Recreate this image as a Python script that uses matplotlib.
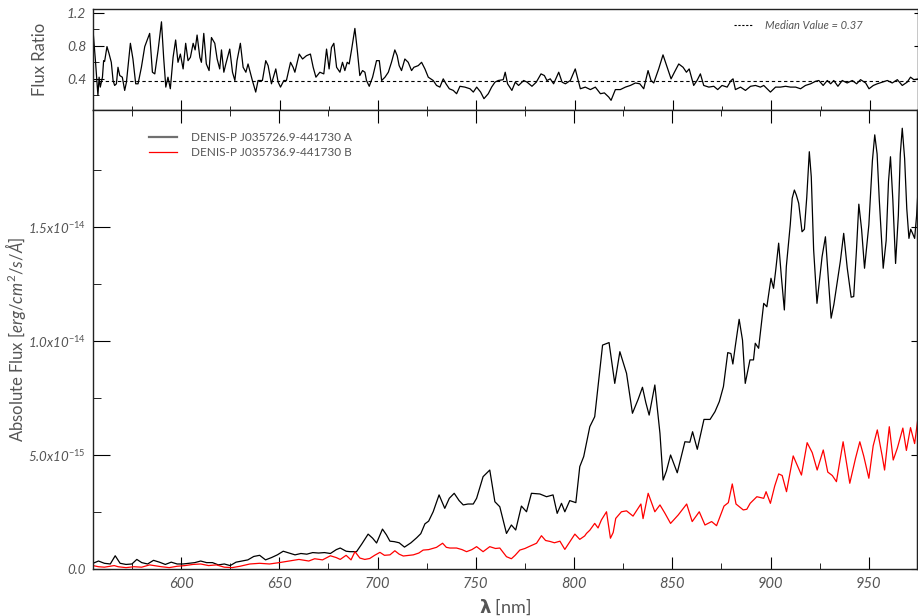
import matplotlib
matplotlib.use("Agg")
import matplotlib.pyplot as plt
from matplotlib.lines import Line2D

plt.rcParams['font.family'] = ['Lato', 'DejaVu Sans']
plt.rcParams['mathtext.fontset'] = 'custom'
plt.rcParams['mathtext.rm'] = 'Lato'
plt.rcParams['mathtext.it'] = 'Lato:italic'
plt.rcParams['mathtext.bf'] = 'DejaVu Sans:bold'
plt.rcParams['mathtext.default'] = 'it'

# Flux ratio B/A (top panel)
ratio_wave = [555.2, 556.5, 557.7, 558.3, 558.9, 560.0, 560.6, 561.1, 562.3, 563.3,
              564.5, 565.4, 566.2, 567.1, 567.9, 568.8, 570.1, 571.3, 572.2, 574.2,
              575.5, 576.9, 578.1, 579.8, 581.5, 583.2, 584.0, 585.4, 586.6, 588.3,
              590.0, 591.1, 592.2, 593.3, 594.5, 595.9, 597.2, 598.4, 599.6, 601.0,
              602.3, 603.5, 604.7, 606.1, 607.1, 608.1, 609.5, 610.3, 611.5, 612.8,
              614.2, 615.4, 617.1, 618.3, 619.6, 620.5, 621.7, 622.7, 624.7, 626.1,
              627.3, 628.4, 630.1, 631.5, 632.9, 634.0, 636.2, 637.9, 639.1, 641.3,
              643.0, 644.2, 645.9, 648.1, 649.3, 650.5, 652.2, 653.5, 655.6, 656.9,
              657.8, 660.0, 661.7, 663.7, 665.7, 667.1, 668.5, 670.5, 672.5, 673.9,
              675.2, 676.4, 677.6, 679.0, 680.7, 682.0, 683.2, 684.4, 685.4, 686.6,
              688.3, 689.5, 690.8, 692.2, 693.4, 694.2, 695.6, 697.3, 699.3, 700.7,
              701.9, 703.6, 705.3, 706.9, 708.6, 709.8, 710.8, 712.0, 713.7, 715.4,
              717.1, 718.3, 720.5, 722.2, 723.9, 725.6, 728.1, 729.8, 731.5, 733.2,
              734.6, 736.3, 738.3, 740.0, 741.7, 744.2, 746.8, 748.5, 750.2, 752.2,
              753.9, 756.1, 757.8, 759.5, 761.2, 763.7, 764.7, 765.9, 768.1, 769.8,
              771.5, 774.1, 775.8, 778.3, 780.5, 782.9, 784.6, 785.9, 787.6, 789.3,
              791.9, 793.6, 795.3, 797.8, 800.3, 802.0, 802.9, 805.4, 808.0, 810.5,
              813.1, 815.1, 817.3, 818.5, 820.7, 823.2, 825.8, 828.3, 830.9, 833.1,
              835.1, 837.3, 838.8, 840.2, 842.7, 844.9, 847.0, 849.0, 850.7, 852.9,
              855.1, 856.8, 858.2, 860.5, 862.2, 863.9, 865.6, 868.2, 870.7, 872.7,
              874.9, 877.5, 879.5, 880.5, 881.7, 884.3, 886.8, 889.4, 891.9, 894.4,
              896.1, 899.5, 902.1, 904.6, 907.2, 909.7, 912.3, 914.8, 917.3, 919.9,
              922.4, 924.1, 926.3, 928.4, 930.1, 931.7, 933.8, 936.0, 938.5, 941.1,
              943.3, 945.3, 947.9, 949.6, 951.8, 953.8, 956.3, 958.9, 961.4, 964.0,
              966.5, 969.0, 970.7, 972.4, 974.8]
ratio = [0.99, 0.60, 0.20, 0.42, 0.30, 0.42, 0.62, 0.61, 0.79, 0.71,
         0.60, 0.38, 0.32, 0.34, 0.54, 0.44, 0.42, 0.26, 0.36, 0.83,
         0.64, 0.34, 0.34, 0.54, 0.79, 0.90, 0.95, 0.48, 0.46, 0.75,
         1.09, 0.66, 0.30, 0.42, 0.28, 0.66, 0.87, 0.60, 0.70, 0.52,
         0.83, 0.62, 0.66, 0.83, 0.75, 0.93, 0.66, 0.60, 0.95, 0.58,
         0.50, 0.90, 0.83, 0.64, 0.52, 0.75, 0.48, 0.58, 0.76, 0.48,
         0.38, 0.62, 0.83, 0.54, 0.48, 0.58, 0.38, 0.24, 0.38, 0.38,
         0.62, 0.56, 0.34, 0.52, 0.36, 0.30, 0.38, 0.38, 0.60, 0.54,
         0.48, 0.70, 0.64, 0.68, 0.70, 0.54, 0.42, 0.48, 0.46, 0.76,
         0.52, 0.78, 0.83, 0.54, 0.48, 0.60, 0.50, 0.60, 0.58, 0.75,
         1.01, 0.75, 0.44, 0.50, 0.48, 0.38, 0.31, 0.42, 0.62, 0.62,
         0.38, 0.42, 0.48, 0.60, 0.75, 0.68, 0.56, 0.50, 0.64, 0.60,
         0.50, 0.54, 0.56, 0.60, 0.52, 0.42, 0.38, 0.32, 0.30, 0.40,
         0.34, 0.28, 0.26, 0.22, 0.31, 0.30, 0.28, 0.24, 0.30, 0.24,
         0.16, 0.22, 0.30, 0.36, 0.38, 0.39, 0.48, 0.34, 0.26, 0.36,
         0.32, 0.38, 0.36, 0.31, 0.36, 0.46, 0.44, 0.38, 0.40, 0.34,
         0.48, 0.36, 0.34, 0.38, 0.52, 0.36, 0.28, 0.30, 0.27, 0.30,
         0.22, 0.23, 0.18, 0.14, 0.27, 0.27, 0.30, 0.32, 0.35, 0.34,
         0.28, 0.50, 0.38, 0.35, 0.52, 0.69, 0.54, 0.40, 0.48, 0.58,
         0.54, 0.48, 0.52, 0.32, 0.38, 0.46, 0.32, 0.30, 0.31, 0.27,
         0.32, 0.30, 0.38, 0.40, 0.27, 0.30, 0.26, 0.31, 0.32, 0.30,
         0.32, 0.24, 0.30, 0.30, 0.31, 0.30, 0.30, 0.28, 0.32, 0.34,
         0.37, 0.38, 0.32, 0.38, 0.34, 0.38, 0.31, 0.38, 0.35, 0.38,
         0.34, 0.39, 0.35, 0.28, 0.32, 0.34, 0.36, 0.38, 0.35, 0.39,
         0.32, 0.36, 0.42, 0.39, 0.40]
median_ratio = 0.37

# Component A (black), flux in units of 1e-15 erg/cm2/s/A
wave_a = [555.2, 558, 561, 564, 566.5, 569, 572, 575, 577.5, 580,
          583, 586, 589, 592, 595, 598, 601, 604, 607, 610,
          613, 616, 619, 622, 625, 628, 631, 634, 637, 640,
          643, 646, 649, 652, 655, 658, 661, 664, 667, 670,
          673, 676, 679, 681, 684, 686, 689.3, 692, 695.2, 697.5,
          699.5, 702.5, 704.5, 706.3, 708.5, 711, 713.7, 717, 719.9, 722,
          724.1, 726, 728.3, 731.3, 734.2, 736.5, 739, 741.5, 743.6, 746,
          748.7, 750.4, 753.7, 757.1, 758.5, 759.7, 762.2, 765.6, 768.1, 770.3,
          773.2, 775.8, 778.3, 782.6, 786, 789.3, 791.4, 793.6, 795.3, 797.8,
          800.9, 802.9, 804.9, 808, 810.5, 812.2, 814.5, 817.8, 820.7, 823.3,
          826.7, 829.7, 832.6, 834.8, 836.5, 838.2, 841.1, 843.7, 845.3, 847,
          849.1, 852.5, 856.4, 858.9, 860.3, 862.7, 866.1, 869.2, 871.7, 873.9,
          876, 878.2, 879.8, 880.8, 882, 884, 885.7, 887.1, 889.5, 891.3,
          892.2, 893.9, 896.5, 898.1, 900.2, 901.5, 902.6, 904.1, 905.5, 907,
          908, 910, 911, 912.1, 913.1, 914.3, 916, 917.2, 918.4, 919.7,
          920.7, 921.9, 923.6, 925, 926.2, 927.9, 929.5, 930.8, 932.2, 933.8,
          935.5, 937.2, 939, 941, 942.3, 943.7, 944.9, 946.3, 947.8, 950,
          951.8, 953, 954.2, 955.3, 957.3, 958.8, 960, 961, 962.2, 963.6,
          965, 966, 967, 968.2, 969.3, 970.4, 971.3, 972.1, 973.3, 974.3,
          975.3]
flux_a = [0.25, 0.35, 0.25, 0.22, 0.58, 0.25, 0.20, 0.22, 0.42, 0.28,
          0.22, 0.38, 0.30, 0.20, 0.30, 0.22, 0.22, 0.25, 0.28, 0.35,
          0.28, 0.28, 0.18, 0.22, 0.15, 0.30, 0.35, 0.40, 0.55, 0.60,
          0.40, 0.50, 0.62, 0.78, 0.70, 0.62, 0.68, 0.65, 0.72, 0.70,
          0.72, 0.68, 0.85, 0.92, 0.78, 0.76, 0.76, 1.10, 1.53, 1.35,
          1.14, 1.75, 1.50, 1.22, 1.20, 1.15, 0.96, 1.15, 1.37, 1.55,
          1.98, 2.10, 2.51, 3.25, 2.66, 3.10, 3.32, 3.00, 2.81, 2.85,
          2.85, 3.10, 4.05, 4.34, 3.60, 2.95, 2.73, 1.56, 1.93, 1.71,
          2.76, 2.51, 3.32, 3.29, 3.17, 3.25, 2.44, 2.88, 2.51, 3.00,
          2.91, 4.49, 4.93, 6.24, 6.68, 8.00, 9.82, 9.93, 8.14, 9.53,
          8.58, 6.83, 7.44, 7.97, 7.30, 6.75, 8.07, 5.95, 3.90, 4.30,
          5.00, 4.22, 5.58, 5.56, 6.02, 5.25, 6.56, 6.56, 6.90, 7.34,
          8.00, 9.49, 9.45, 8.99, 9.75, 10.95, 10.04, 8.14, 9.17, 9.17,
          9.90, 9.68, 11.65, 11.50, 12.75, 12.31, 13.10, 14.29, 12.80, 11.36,
          13.26, 15.09, 16.26, 16.62, 16.40, 16.04, 14.79, 14.90, 16.30, 18.30,
          17.20, 14.00, 11.65, 12.75, 13.70, 14.57, 12.60, 11.00, 11.60, 12.53,
          13.50, 14.72, 13.20, 11.92, 11.95, 14.00, 16.00, 14.90, 13.19, 15.09,
          17.90, 19.04, 18.20, 16.20, 13.19, 14.40, 17.00, 18.08, 16.20, 13.40,
          15.50, 18.20, 19.33, 18.00, 15.80, 14.50, 14.90, 14.75, 14.50, 15.50,
          17.06]

# Component B (red), flux in units of 1e-15 erg/cm2/s/A
wave_b = [555.2, 558, 561, 564, 566, 568, 572, 576, 580, 584,
          587, 590, 594, 598, 602, 606, 610, 614, 618, 622,
          626, 630, 635, 640, 645, 650, 655, 660, 665, 668,
          672, 676, 679, 681, 684, 686.5, 688.5, 691, 693.5, 696,
          698.5, 701.2, 703.5, 706.3, 708.8, 711, 713.1, 716, 718.2, 721,
          723.2, 726, 728, 730, 733.1, 735, 736.8, 740.2, 743, 745.3,
          748, 750.4, 753.7, 757.1, 760, 762.2, 765.6, 768.1, 770, 772.4,
          775, 777.5, 780.9, 783.4, 785.5, 787.7, 790, 792.8, 795.3, 797.5,
          800.4, 802.9, 805.4, 806.3, 808, 810.5, 812.2, 813.9, 816.5, 818.5,
          819.9, 821.2, 824.1, 826.7, 830, 834, 835.1, 837.7, 841.1, 843.7,
          846.2, 849.1, 853, 857.3, 860.1, 863.7, 866.6, 870, 872.5, 876.3,
          878.5, 880.5, 882.4, 886.1, 887.9, 889.6, 893, 896.5, 897.7, 899.9,
          902.1, 904.1, 905.9, 908.1, 911.5, 913.5, 915.7, 918.6, 921.2, 923.7,
          926.8, 929.1, 931.4, 933.5, 936.9, 940.3, 943.2, 945.4, 947.4, 950,
          952.2, 954.3, 956.8, 958, 960.4, 962.4, 964.5, 967.3, 969.1, 971.2,
          973.3, 975.3]
flux_b = [0.15, 0.10, 0.08, 0.12, 0.15, 0.10, 0.06, 0.10, 0.08, 0.18,
          0.14, 0.10, 0.06, 0.12, 0.15, 0.20, 0.22, 0.15, 0.18, 0.08,
          0.06, 0.12, 0.22, 0.25, 0.22, 0.28, 0.35, 0.42, 0.35, 0.45,
          0.40, 0.58, 0.50, 0.42, 0.60, 0.40, 0.76, 0.48, 0.42, 0.46,
          0.60, 0.73, 0.60, 0.62, 0.80, 0.65, 0.57, 0.60, 0.62, 0.70,
          0.83, 0.85, 0.90, 0.95, 1.13, 0.95, 0.92, 0.92, 0.85, 0.76,
          0.85, 0.98, 0.76, 0.98, 0.90, 0.92, 0.54, 0.45, 0.60, 0.83,
          0.90, 1.00, 1.13, 1.46, 1.25, 1.21, 1.15, 1.22, 0.86, 1.15,
          1.53, 1.30, 1.45, 1.56, 1.70, 2.00, 1.80, 2.15, 2.51, 1.35,
          1.60, 2.22, 2.51, 2.55, 2.32, 2.85, 2.21, 3.32, 2.51, 2.81,
          2.45, 2.00, 2.37, 2.85, 2.08, 2.51, 1.93, 2.08, 1.90, 2.76,
          2.91, 3.73, 2.85, 2.59, 2.62, 2.88, 3.17, 3.10, 3.39, 2.88,
          3.64, 4.17, 4.10, 3.39, 4.96, 4.56, 4.12, 5.54, 5.10, 4.34,
          5.22, 4.25, 4.10, 3.83, 5.58, 3.76, 4.85, 5.58, 4.95, 3.98,
          5.40, 6.10, 4.95, 4.34, 6.24, 4.78, 5.30, 6.18, 5.20, 6.20,
          5.50, 6.83]

label_a = 'DENIS-P J035726.9-441730 A'
label_b = 'DENIS-P J035736.9-441730 B'
flux_ticks = [0.0, 5e-15, 1.0e-14, 1.5e-14]
flux_tick_labels = ['0.0', '5.0x10$^{-15}$', '1.0x10$^{-14}$', '1.5x10$^{-14}$']
ratio_ticks = [0.4, 0.8, 1.2]

scale = 1e-15
flux_a_cgs = [v * scale for v in flux_a]
flux_b_cgs = [v * scale for v in flux_b]

text_col = '#555555'
fig = plt.figure(figsize=(9.18, 6.16), dpi=100)
ax_r = fig.add_axes([93 / 918, 1 - 110 / 616, 825 / 918, 101 / 616])
ax_f = fig.add_axes([93 / 918, 1 - 569 / 616, 824 / 918, 459 / 616])

# ---- top panel: flux ratio
ax_r.plot(ratio_wave, ratio, color='black', lw=0.9)
ax_r.axhline(median_ratio, color='black', lw=0.8, linestyle=(0, (3, 2.5)))
ax_r.set_xlim(555.2, 974.5)
ax_r.set_ylim(0.023, 1.245)
ax_r.set_yticks(ratio_ticks)
ax_r.set_yticks([0.2, 0.6, 1.0], minor=True)
ax_r.set_xticks(range(600, 975, 50))
ax_r.set_xticks(range(575, 975, 50), minor=True)
ax_r.tick_params(axis='x', which='both', direction='in', top=False, labelbottom=False)
ax_r.tick_params(axis='x', which='major', length=7)
ax_r.tick_params(axis='x', which='minor', length=3)
ax_r.tick_params(axis='y', which='major', direction='in', length=8, pad=5,
                 labelsize=10, labelcolor=text_col)
ax_r.tick_params(axis='y', which='minor', direction='in', length=4)
ax_r.set_ylabel('Flux Ratio', fontsize=12, color=text_col)
ax_r.yaxis.set_label_coords(-0.055, 0.5)
r2 = ax_r.secondary_yaxis('right')
r2.set_yticks(ratio_ticks)
r2.tick_params(direction='in', length=3, labelright=False)
med_handle = Line2D([], [], color='black', lw=0.8, linestyle=(0, (2, 1.5)))
ax_r.legend([med_handle], ['Median Value = %.2f' % median_ratio], loc='upper right',
            bbox_to_anchor=(0.945, 0.99), frameon=False, handlelength=1.6,
            handletextpad=1.2, prop={'style': 'italic', 'size': 8}, labelcolor=text_col)

# ---- bottom panel: absolute flux
ax_f.plot(wave_a, flux_a_cgs, color='black', lw=0.9)
ax_f.plot(wave_b, flux_b_cgs, color='red', lw=0.9)
ax_f.set_xlim(555.2, 974.5)
ax_f.set_ylim(0, 2.013e-14)
ax_f.set_xticks(range(600, 975, 50))
ax_f.set_xticks(range(575, 975, 50), minor=True)
ax_f.set_yticks(flux_ticks)
ax_f.set_yticklabels(flux_tick_labels)
ax_f.set_yticks([2.5e-15, 7.5e-15, 1.25e-14, 1.75e-14], minor=True)
ax_f.tick_params(axis='x', which='both', direction='in', top=True, pad=6,
                 labelsize=10.5, labelcolor=text_col)
ax_f.tick_params(axis='x', which='major', length=9)
ax_f.tick_params(axis='x', which='minor', length=4)
ax_f.tick_params(axis='y', which='major', direction='in', length=12, pad=5,
                 labelsize=9.5, labelcolor=text_col)
ax_f.tick_params(axis='y', which='minor', direction='in', length=6)
f2 = ax_f.secondary_yaxis('right')
f2.set_yticks(flux_ticks)
f2.tick_params(direction='in', length=4, labelright=False)

for lab in ax_f.get_xticklabels() + ax_f.get_yticklabels() + ax_r.get_yticklabels():
    lab.set_fontstyle('italic')

ax_f.set_ylabel(r'Absolute Flux [$erg/cm^2/s/\AA$]', fontsize=12, color=text_col)
ax_f.yaxis.set_label_coords(-0.079, 0.5)
ax_f.set_xlabel(r'$\mathbf{\lambda}$ [nm]', fontsize=13, color=text_col, labelpad=4)

h_a = Line2D([], [], color='#707070', lw=1.6)
h_b = Line2D([], [], color='red', lw=0.9)
ax_f.legend([h_a, h_b], [label_a, label_b], loc='upper left',
            bbox_to_anchor=(0.055, 0.975), frameon=False, fontsize=8.5,
            handlelength=2.4, handletextpad=1.2, labelspacing=0.3, labelcolor=text_col)

for ax in (ax_r, ax_f):
    for sp in ax.spines.values():
        sp.set_linewidth(1.0)
        sp.set_color('#222222')

fig.savefig('out.png', dpi=100)
